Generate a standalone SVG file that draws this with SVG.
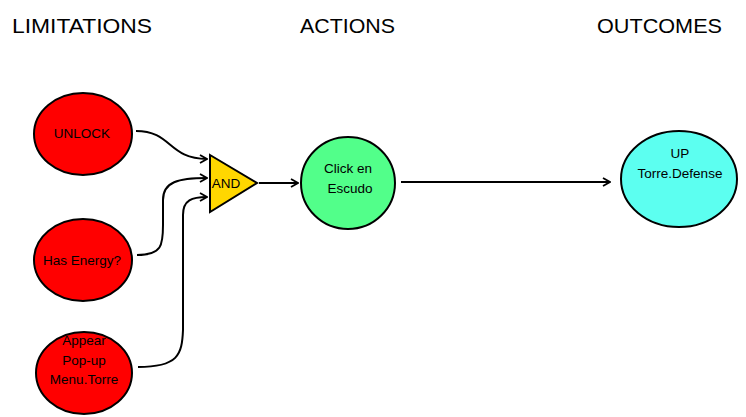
<svg xmlns="http://www.w3.org/2000/svg" width="746" height="417" viewBox="0 0 746 417">
<defs>
<style>
.title{font-family:"Liberation Sans","DejaVu Sans",sans-serif;font-size:21px;fill:#000}
.lbl{font-family:"Liberation Sans","DejaVu Sans",sans-serif;font-size:13.5px;fill:#000;text-anchor:middle}
.node{stroke:#000;stroke-width:2}
.red{fill:#ff0000}
.conn{fill:none;stroke:#000;stroke-width:2;marker-end:url(#arr)}
</style>
<marker id="arr" viewBox="0 0 10 10" refX="9" refY="5" markerWidth="10" markerHeight="10" markerUnits="userSpaceOnUse" orient="auto">
<path d="M2,1 L9,5 L2,9" fill="none" stroke="#000" stroke-width="1.8"/>
</marker>
</defs>
<rect width="746" height="417" fill="#fff"/>
<text class="title" x="12" y="33" textLength="140" lengthAdjust="spacingAndGlyphs">LIMITATIONS</text>
<text class="title" x="300" y="33" textLength="95" lengthAdjust="spacingAndGlyphs">ACTIONS</text>
<text class="title" x="597" y="33" textLength="125" lengthAdjust="spacingAndGlyphs">OUTCOMES</text>
<g id="connectors">
<path class="conn" d="M136,131 C172,131 168,159 207,159"/>
<path class="conn" d="M137,255 C162,255 163,245 163,225 L163,200 C163,182 178,178 207,178"/>
<path class="conn" d="M138,367 C178,367 182,355 183,330 L183,215 C183,200 192,197 207,197"/>
<path class="conn" d="M259,183 L298,183"/>
<path class="conn" d="M401,182 L610,182"/>
</g>
<g id="unlock">
<ellipse class="node red" cx="83" cy="134" rx="49" ry="41"/>
<text class="lbl" x="82" y="138">UNLOCK</text>
</g>
<g id="energy">
<ellipse class="node red" cx="83" cy="260" rx="49" ry="41"/>
<text class="lbl" x="82" y="265">Has Energy?</text>
</g>
<g id="popup">
<ellipse class="node red" cx="84" cy="373" rx="48" ry="41"/>
<text class="lbl" x="84" y="345">Appear</text>
<text class="lbl" x="84" y="365">Pop-up</text>
<text class="lbl" x="84" y="384">Menu.Torre</text>
</g>
<g id="and">
<polygon class="node" points="210,155 257,183 210,212" fill="#ffd700"/>
<text class="lbl" x="226" y="188">AND</text>
</g>
<g id="click">
<ellipse class="node" cx="348" cy="183" rx="47" ry="46" fill="#52ff8a"/>
<text class="lbl" x="348" y="173">Click en</text>
<text class="lbl" x="350" y="193">Escudo</text>
</g>
<g id="up">
<ellipse class="node" cx="679" cy="179" rx="58" ry="48" fill="#5cfff0"/>
<text class="lbl" x="680" y="158">UP</text>
<text class="lbl" x="680" y="178">Torre.Defense</text>
</g>
</svg>
